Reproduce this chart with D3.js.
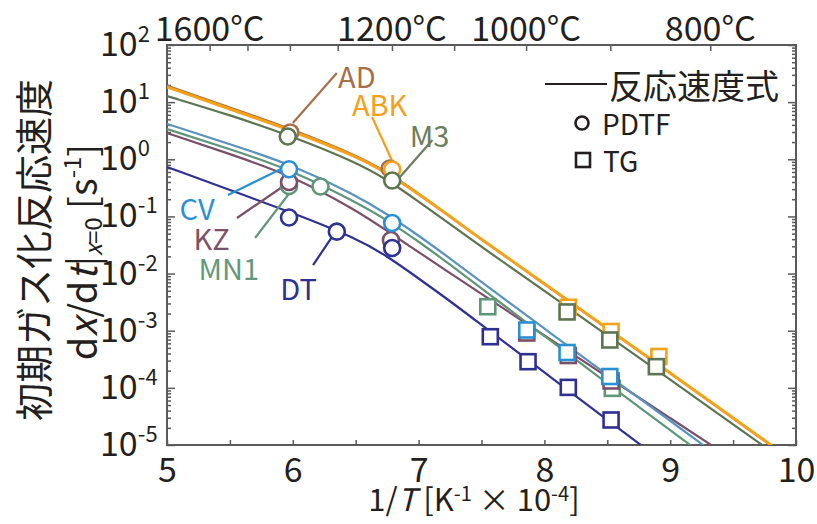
<!DOCTYPE html>
<html><head><meta charset="utf-8">
<script src="https://cdn.jsdelivr.net/npm/d3@7"></script>
<style>
body{margin:0;background:#fff}
svg{display:block}
text{font-family:"Noto Sans CJK JP","Noto Sans",sans-serif;fill:#231f20}
</style>
</head><body>
<svg id="c" width="817" height="524"></svg>
<script>
// ---------- data ----------
const xGrid   = [5, 5.5, 6, 6.5, 6.75, 7, 7.25, 7.5, 8, 8.5, 9, 9.5, 10];
const rateAD  = [19.5, 8.05, 3.32, 1.19, 0.60, 0.255, 0.0995, 0.0392, 0.0066, 0.00108, 1.8e-4, 2.95e-5, 4.8e-6];
const rateABK = [18.4, 7.59, 3.13, 1.14, 0.575, 0.247, 0.0997, 0.0395, 0.0067, 0.00109, 1.82e-4, 2.97e-5, 4.84e-6];
const rateM3  = [12.8, 5.96, 2.50, 0.897, 0.443, 0.182, 0.0737, 0.0292, 0.00501, 8.25e-4, 1.40e-4, 2.30e-5, 3.80e-6];
const rateCV  = [4.15, 1.85, 0.794, 0.237, 0.110, 0.0464, 0.0184, 0.00712, 0.00109, 1.68e-4, 2.65e-5, 4.12e-6, null];
const rateKZ  = [2.88, 1.24, 0.510, 0.130, 0.0556, 0.0238, 0.0102, 0.00439, 8.25e-4, 1.55e-4, 2.97e-5, 5.57e-6, null];
const rateMN1 = [3.39, 1.51, 0.637, 0.179, 0.0866, 0.0364, 0.0144, 0.00548, 8.08e-4, 1.19e-4, 1.83e-5, 2.75e-6, null];
const rateDT  = [0.733, 0.290, 0.115, 0.0419, 0.0203, 0.0082, 0.00331, 0.00126, 1.86e-4, 2.74e-5, 4.12e-6, null, null];

// PDTF (circles): [1/T, rate]
const pdtfAD  = [[5.98, 2.95], [6.77, 0.690]];
const pdtfABK = [[6.79, 0.663]];
const pdtfM3  = [[5.96, 2.50], [6.79, 0.426]];
const pdtfMN1 = [[5.97, 0.341], [6.22, 0.334]];
const pdtfKZ  = [[5.97, 0.400], [6.78, 0.0387]];
const pdtfCV  = [[5.97, 0.668], [6.79, 0.0767]];
const pdtfDT  = [[5.97, 0.0958], [6.35, 0.0541], [6.79, 0.0280]];

// TG (squares): [1/T, rate]
const tgABK = [[8.19, 0.00257], [8.53, 9.69e-4], [8.91, 3.54e-4]];
const tgM3  = [[8.18, 0.00213], [8.52, 6.88e-4], [8.89, 2.35e-4]];
const tgMN1 = [[7.55, 0.00263], [8.54, 9.8e-5]];
const tgKZ  = [[7.86, 9.12e-4], [8.19, 3.68e-4], [8.53, 1.32e-4]];
const tgCV  = [[7.86, 0.00103], [8.18, 4.16e-4], [8.52, 1.58e-4]];
const tgDT  = [[7.57, 7.85e-4], [7.87, 2.87e-4], [8.19, 1.02e-4], [8.53, 2.74e-5]];

// annotation labels
const labelNames = ["AD", "ABK", "M3", "CV", "KZ", "MN1", "DT"];
const labelPos   = [[6.36, 17.7], [6.47, 5.72], [6.93, 1.64], [5.10, 0.0866], [5.21, 0.0259], [5.25, 0.00772], [5.90, 0.00345]];
const leaderFrom = [[6.35, 32.4], [6.63, 5.5], [7.11, 2.18], [5.485, 0.237], [5.556, 0.0939], [5.70, 0.0419], [6.161, 0.0141]];
const leaderTo   = [[6.00, 4.31], [6.812, 0.733], [6.852, 0.490], [5.922, 0.704], [5.962, 0.385], [5.986, 0.279], [6.312, 0.0437]];

// axes ticks
const xTickValues = [5, 5.5, 6, 6.5, 7, 7.5, 8, 8.5, 9, 9.5, 10];
const xTickLabels = [5, 6, 7, 8, 9, 10];
const yExponents  = [2, 1, 0, -1, -2, -3, -4, -5];
const tempTicks   = [1600, 1500, 1400, 1300, 1200, 1100, 1000, 900, 800];
const tempLabels  = [1600, 1200, 1000, 800];

// ---------- styles ----------
const colors = {AD:"#a8704a", ABK:"#f5a21b", M3:"#5d7452", CV:"#5a93bd", KZ:"#7a4f68", MN1:"#5f967a", DT:"#2e3192"};
const markColors = {AD:"#a8704a", ABK:"#f5a21b", M3:"#5d7452", CV:"#2b8fd3", KZ:"#7a4f68", MN1:"#5f967a", DT:"#2e3192"};
const textColors = {AD:"#a8704a", ABK:"#f5a01a", M3:"#6b7d5c", CV:"#2b8fd3", KZ:"#7d5069", MN1:"#62987c", DT:"#2e3192"};

const L = 167, R = 796, T = 45, B = 445;
const svg = d3.select("#c");
const x = d3.scaleLinear().domain([5, 10]).range([L, R]);
const y = d3.scaleLog().domain([1e-5, 1e2]).range([B, T]);
const axisColor = "#5a5a5a";

svg.append("defs").append("clipPath").attr("id", "clip")
  .append("rect").attr("x", L).attr("y", T).attr("width", R - L).attr("height", B - T);

// ---------- axes ----------
const minorY = [];
for (let k = -5; k <= 1; k++) for (let m = 2; m <= 9; m++) minorY.push(m * Math.pow(10, k));
const majorY = yExponents.map(e => Math.pow(10, e));

function styleAxis(g) {
  g.select(".domain").remove();
  g.selectAll(".tick line").attr("stroke", axisColor).attr("stroke-width", 1.5);
}
svg.append("g").attr("transform", `translate(${L},0)`)
  .call(d3.axisLeft(y).tickValues(minorY).tickSize(-4).tickFormat(""))
  .call(styleAxis);
svg.append("g").attr("transform", `translate(${L},0)`)
  .call(d3.axisLeft(y).tickValues(majorY).tickSize(-8).tickFormat(""))
  .call(styleAxis);
svg.append("g").attr("transform", `translate(${R},0)`)
  .call(d3.axisRight(y).tickValues(minorY).tickSize(-4).tickFormat(""))
  .call(styleAxis);
svg.append("g").attr("transform", `translate(${R},0)`)
  .call(d3.axisRight(y).tickValues(majorY).tickSize(-8).tickFormat(""))
  .call(styleAxis);

const xAx = svg.append("g").attr("transform", `translate(0,${B})`)
  .call(d3.axisBottom(x).tickValues(xTickValues).tickSize(-5).tickPadding(13)
    .tickFormat(d => xTickLabels.includes(d) ? String(d) : ""))
  .call(styleAxis);
xAx.selectAll("text").attr("font-size", 34).attr("fill", "#231f20")
  .style("font-family", '"Noto Sans CJK JP","Noto Sans",sans-serif');

const invT = t => 1e4 / (t + 273.15);
svg.append("g").attr("transform", `translate(0,${T})`)
  .call(d3.axisTop(x).tickValues(tempTicks.map(invT)).tickSize(-6).tickFormat(""))
  .call(styleAxis);
svg.append("g").selectAll("text").data(tempLabels).join("text")
  .attr("x", d => x(invT(d))).attr("y", 41).attr("text-anchor", "middle")
  .attr("font-size", 34).text(d => d + "°C");

// frame
svg.append("rect").attr("x", L).attr("y", T).attr("width", R - L).attr("height", B - T)
  .attr("fill", "none").attr("stroke", axisColor).attr("stroke-width", 2);

// y tick labels 10^n
const yl = svg.append("g").selectAll("text").data(yExponents).join("text")
  .attr("x", 100).attr("y", d => y(Math.pow(10, d)) + 11).attr("font-size", 34);
yl.append("tspan").text("10");
yl.append("tspan").attr("font-size", 22).attr("dy", -14).text(d => String(d));

// rich text helper
function rich(sel, parts) {
  let off = 0;
  parts.forEach(p => {
    const ts = sel.append("tspan").text(p.t);
    const want = p.shift || 0;
    ts.attr("dy", want - off); off = want;
    if (p.size) ts.attr("font-size", p.size);
    if (p.it) ts.attr("font-style", "italic");
  });
}

// axis titles
const xt = svg.append("text").attr("x", 474).attr("y", 511).attr("text-anchor", "middle").attr("font-size", 31);
rich(xt, [{t:"1/"}, {t:"T", it:true}, {t:" [K"}, {t:"-1", size:20, shift:-10}, {t:" × 10"}, {t:"-4", size:20, shift:-10}, {t:"]"}]);

svg.append("text").attr("transform", "translate(31,250) rotate(-90)")
  .attr("text-anchor", "middle").attr("dominant-baseline", "central")
  .attr("font-size", 38).text("初期ガス化反応速度");

const yt = svg.append("text").attr("transform", "translate(97,252) rotate(-90)")
  .attr("text-anchor", "middle").attr("font-size", 38);
rich(yt, [{t:"d"}, {t:"x", it:true}, {t:"/d"}, {t:"t", it:true}, {t:"|"},
  {t:"x", it:true, size:24, shift:5}, {t:"=0", size:24, shift:5}, {t:" [s"},
  {t:"-1", size:24, shift:-16}, {t:"]"}]);

// ---------- lines ----------
const series = [
  ["AD", rateAD, 2.2], ["ABK", rateABK, 3], ["M3", rateM3, 2.2],
  ["KZ", rateKZ, 2.2], ["MN1", rateMN1, 2.2], ["CV", rateCV, 2.2], ["DT", rateDT, 2.2]
];
const line = d3.line().defined(d => d[1] != null).x(d => x(d[0])).y(d => y(d[1])).curve(d3.curveBasis);
const lg = svg.append("g").attr("clip-path", "url(#clip)");
series.forEach(([name, vals, w]) => {
  lg.append("path").datum(xGrid.map((xv, i) => [xv, vals[i]]))
    .attr("d", line).attr("fill", "none").attr("stroke", colors[name]).attr("stroke-width", w);
});

// ---------- leaders and labels ----------
const ag = svg.append("g");
labelNames.forEach((n, i) => {
  ag.append("line")
    .attr("x1", x(leaderFrom[i][0])).attr("y1", y(leaderFrom[i][1]))
    .attr("x2", x(leaderTo[i][0])).attr("y2", y(leaderTo[i][1]))
    .attr("stroke", textColors[n]).attr("stroke-width", 2.2);
  ag.append("text").attr("x", x(labelPos[i][0])).attr("y", y(labelPos[i][1]))
    .attr("font-size", 29).style("fill", textColors[n]).text(n);
});

// ---------- markers ----------
const mg = svg.append("g");
const circleSets = [["AD", pdtfAD], ["ABK", pdtfABK], ["M3", pdtfM3], ["MN1", pdtfMN1], ["KZ", pdtfKZ], ["CV", pdtfCV], ["DT", pdtfDT]];
const squareSets = [["ABK", tgABK], ["M3", tgM3], ["MN1", tgMN1], ["KZ", tgKZ], ["CV", tgCV], ["DT", tgDT]];
squareSets.forEach(([n, pts]) => {
  mg.append("g").selectAll("rect").data(pts).join("rect")
    .attr("x", d => x(d[0]) - 7.5).attr("y", d => y(d[1]) - 7.5)
    .attr("width", 15).attr("height", 15)
    .attr("fill", "#fff").attr("stroke", markColors[n]).attr("stroke-width", 2.6);
});
circleSets.forEach(([n, pts]) => {
  mg.append("g").selectAll("circle").data(pts).join("circle")
    .attr("cx", d => x(d[0])).attr("cy", d => y(d[1])).attr("r", 8)
    .attr("fill", "#fff").attr("stroke", markColors[n]).attr("stroke-width", 2.6);
});

// ---------- legend ----------
const leg = svg.append("g");
leg.append("line").attr("x1", 545).attr("x2", 607).attr("y1", 84).attr("y2", 84)
  .attr("stroke", "#231f20").attr("stroke-width", 2);
leg.append("text").attr("x", 609).attr("y", 84).attr("dominant-baseline", "central")
  .attr("font-size", 34).text("反応速度式");
leg.append("circle").attr("cx", 582).attr("cy", 123).attr("r", 6.5)
  .attr("fill", "none").attr("stroke", "#231f20").attr("stroke-width", 2.6);
leg.append("text").attr("x", 602).attr("y", 123).attr("dominant-baseline", "central")
  .attr("font-size", 28).text("PDTF");
leg.append("rect").attr("x", 576).attr("y", 153).attr("width", 14).attr("height", 14)
  .attr("fill", "none").attr("stroke", "#231f20").attr("stroke-width", 2.6);
leg.append("text").attr("x", 603).attr("y", 160).attr("dominant-baseline", "central")
  .attr("font-size", 28).text("TG");
</script>
</body></html>
